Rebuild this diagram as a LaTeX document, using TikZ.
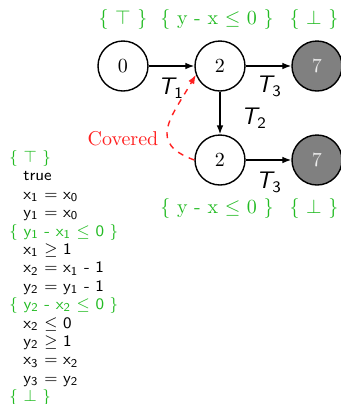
\documentclass[tikz,border=0pt]{standalone}
\usepackage{amsmath,amssymb}
\usetikzlibrary{arrows.meta,positioning}
\definecolor{cond}{HTML}{22BB22}
\definecolor{cover}{HTML}{FF2020}
\definecolor{errfill}{HTML}{808080}
\tikzset{
    state/.style={
        circle,
        draw,
        line width=0.7pt,
        minimum size=25pt,
        inner sep=0pt
    },
    errstate/.style={
        state,
        fill=errfill,
        text=white!85!gray
    },
    trans/.style={
        -{Latex[length=4.5pt]},
        line width=0.7pt
    },
    covering/.style={
        -{Latex[length=4.5pt]},
        dashed,
        line width=0.7pt,
        color=cover
    },
    condlabel/.style={
        color=cond,
        inner sep=1pt
    },
    translabel/.style={
        font=\large\sffamily\itshape,
        inner sep=1pt
    }
}
\newcommand{\sv}[2]{\ensuremath{\mathsf{#1}_{\mathsf{#2}}}}
\newcommand{\tname}[1]{T$_{\mathsf{#1}}$}

\begin{document}
\begin{tikzpicture}[x=0.5pt,y=-0.5pt]

    \useasboundingbox (0,0) rectangle (341,404);

    % Etats
    \node[state] (s0) at (123,66) {0};
    \node[state] (s2) at (220,66) {2};
    \node[errstate] (s7) at (317,66) {7};
    \node[state] (t2) at (220,160) {2};
    \node[errstate] (t7) at (317,160) {7};

    % Conditions
    \node[condlabel] (c0) at (123,19) {$\{$ $\top$ $\}$};
    \node[condlabel] (c2) at (217,19) {$\{$ y - x $\leq$ 0 $\}$};
    \node[condlabel] (c7) at (314,19) {$\{$ $\bot$ $\}$};
    \node[condlabel] (d2) at (217,208) {$\{$ y - x $\leq$ 0 $\}$};
    \node[condlabel] (d7) at (314,208) {$\{$ $\bot$ $\}$};

    % Transitions
    \draw[trans] (s0) -- (s2);
    \draw[trans] (s2) -- (s7);
    \draw[trans] (s2) -- (t2);
    \draw[trans] (t2) -- (t7);

    \node[translabel] (l1) at (171,88) {\tname{1}};
    \node[translabel] (l3) at (269,86) {\tname{3}};
    \node[translabel] (l2) at (254,118) {\tname{2}};
    \node[translabel] (l4) at (269,182) {\tname{3}};

    % Couverture
    \draw[covering]
        (t2.west) to[out=160,in=-120,looseness=1.5] (s2.200);

    \node[color=cover] (cov) at (123,139) {Covered};

    % Trace
    \node[
        anchor=north west,
        align=left,
        font=\fontsize{8}{9.2}\selectfont\sffamily,
        inner sep=0pt
    ]
        (trace) at (9,150)
        {\textcolor{cond}{$\{$ $\top$ $\}$}\\
         \hspace*{7pt}true\\
         \hspace*{7pt}\sv{x}{1} $=$ \sv{x}{0}\\
         \hspace*{7pt}\sv{y}{1} $=$ \sv{x}{0}\\
         \textcolor{cond}{$\{$ \sv{y}{1} - \sv{x}{1} $\leq$ 0 $\}$}\\
         \hspace*{7pt}\sv{x}{1} $\geq$ 1\\
         \hspace*{7pt}\sv{x}{2} $=$ \sv{x}{1} - 1\\
         \hspace*{7pt}\sv{y}{2} $=$ \sv{y}{1} - 1\\
         \textcolor{cond}{$\{$ \sv{y}{2} - \sv{x}{2} $\leq$ 0 $\}$}\\
         \hspace*{7pt}\sv{x}{2} $\leq$ 0\\
         \hspace*{7pt}\sv{y}{2} $\geq$ 1\\
         \hspace*{7pt}\sv{x}{3} $=$ \sv{x}{2}\\
         \hspace*{7pt}\sv{y}{3} $=$ \sv{y}{2}\\
         \textcolor{cond}{$\{$ $\bot$ $\}$}};

\end{tikzpicture}
\end{document}
